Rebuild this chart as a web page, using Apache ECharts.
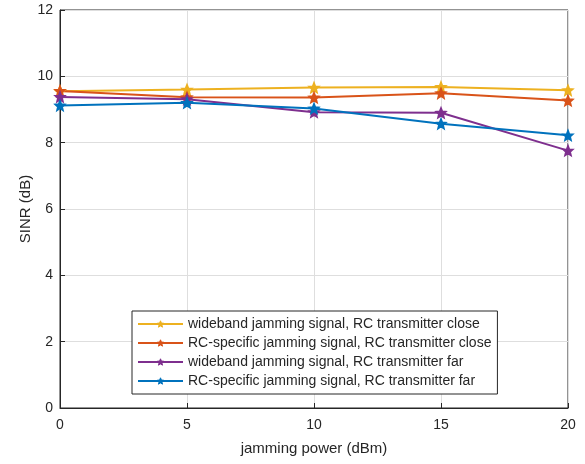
<!DOCTYPE html>
<html><head><meta charset="utf-8">
<script src="https://cdn.jsdelivr.net/npm/echarts@6/dist/echarts.min.js"></script>
<style>html,body{margin:0;padding:0;background:#fff}#c{width:585px;height:464px}</style>
</head><body><div id="c"></div>
<script>
const xValues = [0, 5, 10, 15, 20];
const wideClose = [9.55, 9.60, 9.66, 9.68, 9.58];
const rcClose = [9.56, 9.37, 9.36, 9.49, 9.27];
const wideFar = [9.38, 9.31, 8.92, 8.90, 7.76];
const rcFar = [9.12, 9.20, 9.03, 8.57, 8.22];
const seriesNames = [
  'wideband jamming signal, RC transmitter close',
  'RC-specific jamming signal, RC transmitter close',
  'wideband jamming signal, RC transmitter far',
  'RC-specific jamming signal, RC transmitter far'
];
const colors = ['#EDB120', '#D95319', '#7E2F8E', '#0072BD'];
const allData = [wideClose, rcClose, wideFar, rcFar];
const star = 'path://M0,-10 L2.6,-3.6 L9.5,-3.1 L4.2,1.4 L5.9,8.1 L0,4.4 L-5.9,8.1 L-4.2,1.4 L-9.5,-3.1 L-2.6,-3.6 Z';
const font = 'Liberation Sans, Arial, sans-serif';
const chart = echarts.init(document.getElementById('c'), null, {renderer: 'canvas'});
chart.setOption({
  animation: false,
  color: colors,
  grid: {left: 60, right: 17, top: 10, bottom: 56, show: true, borderColor: '#262626', borderWidth: 1, backgroundColor: '#fff'},
  legend: {
    orient: 'vertical', left: 132, top: 311, width: 360,
    backgroundColor: '#fff', borderColor: '#262626', borderWidth: 1,
    padding: [6, 6, 6, 5], itemGap: 5, itemWidth: 45, itemHeight: 8,
    textStyle: {fontFamily: font, fontSize: 14, color: '#262626', lineHeight: 14},
    data: seriesNames.map(n => ({name: n, itemStyle: {borderWidth: 1}}))
  },
  xAxis: {
    type: 'value', min: 0, max: 20, interval: 5,
    name: 'jamming power (dBm)', nameLocation: 'middle', nameGap: 33, nameMoveOverlap: false,
    nameTextStyle: {fontFamily: font, fontSize: 15, color: '#262626'},
    axisLine: {show: true, lineStyle: {color: '#262626'}},
    axisTick: {inside: true, length: 5, lineStyle: {color: '#262626'}},
    axisLabel: {fontFamily: font, fontSize: 14, color: '#262626', margin: 10},
    splitLine: {show: true, lineStyle: {color: '#dedede'}}
  },
  yAxis: {
    type: 'value', min: 0, max: 12, interval: 2,
    name: 'SINR (dB)', nameLocation: 'middle', nameGap: 27, nameMoveOverlap: false,
    nameTextStyle: {fontFamily: font, fontSize: 15, color: '#262626'},
    axisLine: {show: true, lineStyle: {color: '#262626'}},
    axisTick: {inside: true, length: 5, lineStyle: {color: '#262626'}},
    axisLabel: {fontFamily: font, fontSize: 14, color: '#262626', margin: 7},
    splitLine: {show: true, lineStyle: {color: '#dedede'}}
  },
  series: allData.map((d, i) => ({
    name: seriesNames[i], type: 'line',
    data: d.map((v, j) => [xValues[j], v]),
    symbol: star, symbolSize: 10,
    lineStyle: {width: 2, color: colors[i]},
    itemStyle: {color: colors[i], borderColor: colors[i], borderWidth: 1.5}
  }))
});
</script></body></html>
